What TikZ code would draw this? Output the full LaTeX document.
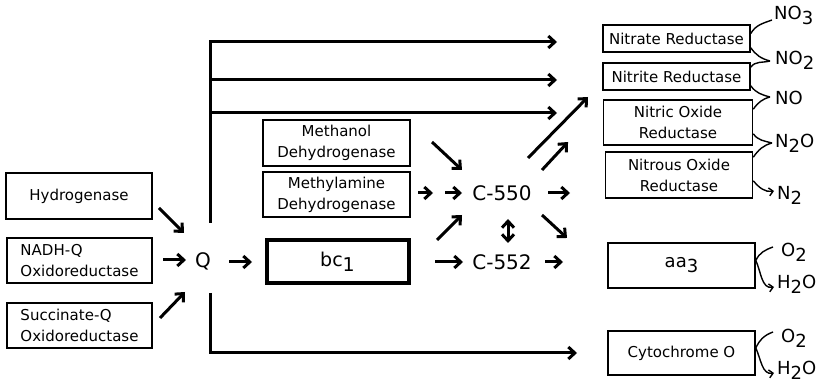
\documentclass[tikz,border=0pt]{standalone}
\usepackage{fontspec}
\setmainfont{DejaVu Sans}
\usetikzlibrary{arrows.meta}
\newcommand\sbs[1]{\raisebox{-0.5ex}{#1}}
\begin{document}
\begin{tikzpicture}[x=1pt,y=-1pt,
 box/.style={draw, line width=1.6pt, inner sep=2pt, align=center, font=\fontsize{15}{21}\selectfont},
 big/.style={inner sep=0pt, font=\fontsize{20}{22}\selectfont},
 chem/.style={inner sep=0pt, anchor=west, font=\fontsize{18}{18}\selectfont},
 arr/.style={line width=3pt, -{Straight Barb[length=6.5pt,width=12pt]}},
 darr/.style={line width=3pt, {Straight Barb[length=6.5pt,width=12pt]}-{Straight Barb[length=6.5pt,width=12pt]}},
 thin/.style={line width=1.4pt},
 thinarr/.style={line width=1.4pt, -{Straight Barb[length=4pt,width=8pt]}},
]
\useasboundingbox (0,0) rectangle (820,387);
% left boxes
\node[box, minimum width=146pt, minimum height=46pt] (hyd) at (79,196) {Hydrogenase};
\node[box, align=left, minimum width=145pt, minimum height=45pt] (nadh) at (79.5,260.5) {NADH-Q\\Oxidoreductase};
\node[box, align=left, minimum width=145pt, minimum height=45pt] (succ) at (79.5,325.5) {Succinate-Q\\Oxidoreductase};
\node[big] (q) at (203,261) {Q};
% middle boxes
\node[box, minimum width=147pt, minimum height=46pt] (meoh) at (336.5,143) {Methanol\\Dehydrogenase};
\node[box, minimum width=147pt, minimum height=45pt] (mea) at (336.5,194.5) {Methylamine\\Dehydrogenase};
\node[box, line width=4pt, minimum width=142pt, minimum height=43pt, font=\fontsize{19}{20}\selectfont] (bc) at (337.5,262) {bc\sbs{1}};
\node[big] (c550) at (502,193) {C-550};
\node[big] (c552) at (502,262) {C-552};
% right boxes
\node[box, minimum width=147pt, minimum height=27pt] (nitrate) at (676.5,38.5) {Nitrate Reductase};
\node[box, minimum width=147pt, minimum height=27pt] (nitrite) at (676.5,76.5) {Nitrite Reductase};
\node[box, minimum width=149pt, minimum height=45pt] (nitric) at (678,122.5) {Nitric Oxide\\Reductase};
\node[box, minimum width=147pt, minimum height=46pt] (nitrous) at (679,175) {Nitrous Oxide\\Reductase};
\node[box, minimum width=147pt, minimum height=45pt, font=\fontsize{18}{20}\selectfont] (aa) at (681.5,265.5) {aa\sbs{3}};
\node[box, minimum width=147pt, minimum height=44pt, font=\fontsize{15}{20}\selectfont] (cyto) at (681.5,353) {Cytochrome O};
% chemical labels
\node[chem] (no3) at (774,15) {NO\sbs{3}};
\node[chem] (no2) at (775,60) {NO\sbs{2}};
\node[chem] (no) at (775,98) {NO};
\node[chem] (n2o) at (775,143) {N\sbs{2}O};
\node[chem] (n2) at (777,195) {N\sbs{2}};
\node[chem] (o2a) at (781,252) {O\sbs{2}};
\node[chem] (h2oa) at (777,284) {H\sbs{2}O};
\node[chem] (o2b) at (781,338) {O\sbs{2}};
\node[chem] (h2ob) at (777,370) {H\sbs{2}O};
% connector points
\coordinate (ap3) at (772,20);
\coordinate (ap2) at (770,61);
\coordinate (apno) at (770,97);
\coordinate (apn2o) at (772,143);
\coordinate (ah2n) at (774,191);
\coordinate (o2ea) at (773,247);
\coordinate (h2ea) at (774,287);
\coordinate (o2eb) at (773,332);
\coordinate (h2eb) at (774,373);
% bus lines
\coordinate (bt) at (210,42);
\coordinate (bq1) at (210,223);
\coordinate (bq2) at (210,293);
\coordinate (b2) at (210,80);
\coordinate (b3) at (210,113);
\coordinate (e1) at (557,42);
\coordinate (e2) at (557,80);
\coordinate (e3) at (557,113);
\coordinate (e4) at (577,353);
\draw[arr] (bq1) |- (e1);
\draw[arr] (b2) -- (e2);
\draw[arr] (b3) -- (e3);
\draw[arr] (bq2) |- (e4);
% small reaction arrows
\draw[arr] (159,208) -- (184,233);
\draw[arr] (163,260) -- (186,260);
\draw[arr] (160,318) -- (185,292);
\draw[arr] (229,262) -- (252,262);
\draw[arr] (432,142) -- (462,170);
\draw[arr] (418,193) -- (433,193);
\draw[arr] (445,193) -- (462,193);
\draw[arr] (548,193) -- (570,193);
\draw[arr] (528,158) -- (588,97);
\draw[arr] (542,170) -- (568,142);
\draw[arr] (435,262) -- (463,262);
\draw[arr] (545,262) -- (563,262);
\draw[arr] (437,240) -- (462,215);
\draw[darr] (508,219) -- (508,243);
\draw[arr] (542,215) -- (567,238);
% nitrogen connectors
\draw[thin] ([yshift=5pt]nitrate.east) to[out=60,in=200] (ap3);
\draw[thin] ([yshift=5pt]nitrate.south east) to[out=-55,in=165] (ap2);
\draw[thin] ([yshift=-5pt]nitrite.north east) to[out=55,in=195] (ap2);
\draw[thin] ([yshift=5pt]nitrite.south east) to[out=-55,in=165] (apno);
\draw[thin] ([yshift=-10pt]nitric.north east) to[out=55,in=195] (apno);
\draw[thin] ([yshift=12pt]nitric.south east) to[out=-55,in=165] (apn2o);
\draw[thin] ([yshift=-6pt]nitrous.north east) to[out=55,in=195] (apn2o);
\draw[thinarr] ([yshift=18pt]nitrous.south east) to[out=-50,in=190] (ah2n);
% oxygen connectors
\draw[thin] (o2ea) to[out=200,in=65] ([yshift=5pt]aa.east);
\draw[thinarr] ([yshift=5pt]aa.east) to[out=-65,in=190] (h2ea);
\draw[thin] (o2eb) to[out=200,in=65] ([yshift=5pt]cyto.east);
\draw[thinarr] ([yshift=5pt]cyto.east) to[out=-65,in=190] (h2eb);
\end{tikzpicture}
\end{document}
